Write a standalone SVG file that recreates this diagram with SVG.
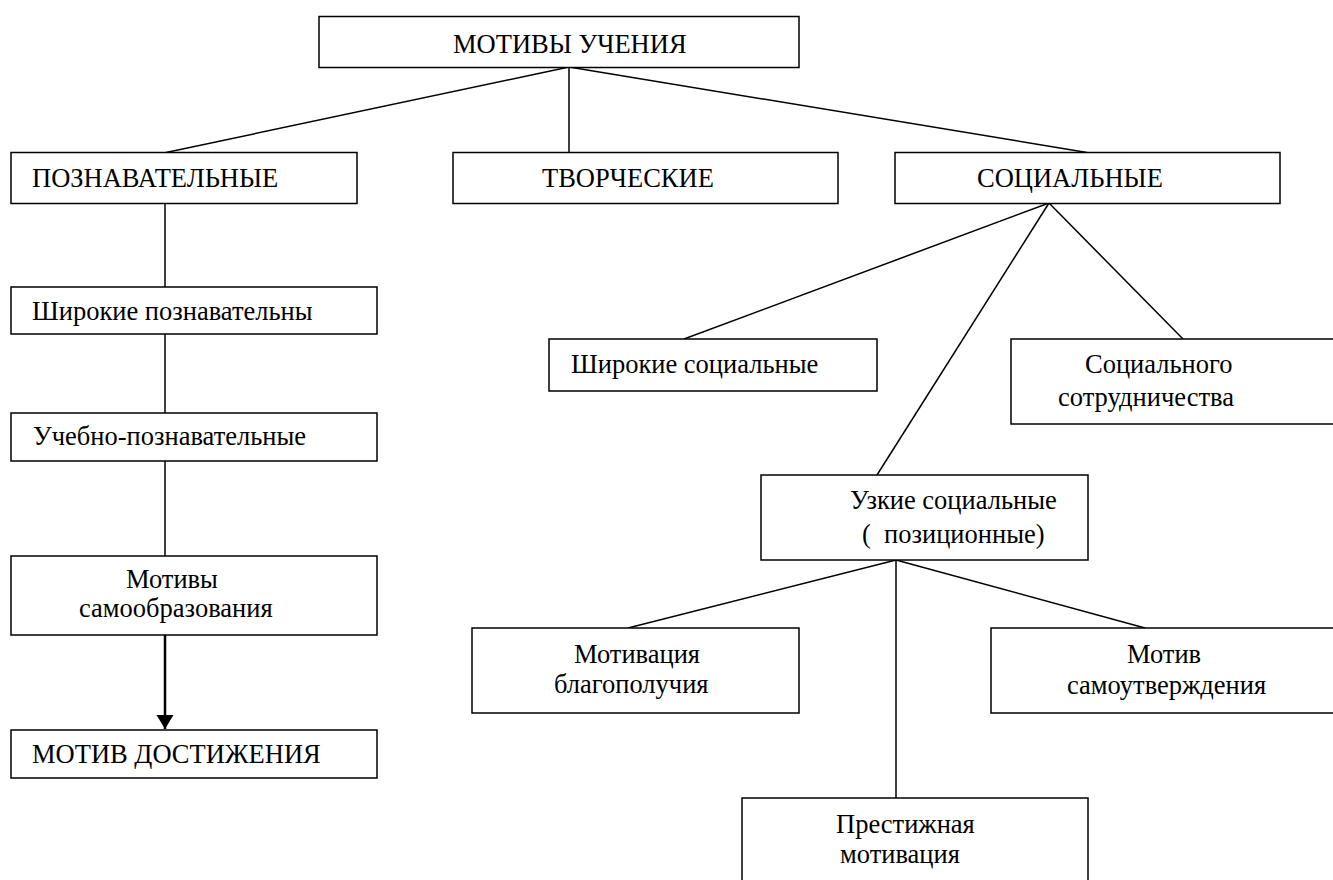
<svg xmlns="http://www.w3.org/2000/svg" width="1333" height="880" viewBox="0 0 1333 880">
<style>
.box{fill:#fff;stroke:#000;stroke-width:1.5}
.t{font-family:"Liberation Serif","Times New Roman",Times,serif;font-size:26.5px;fill:#000;white-space:pre}
.c{stroke:#000;stroke-width:1.5;fill:none}
.a{stroke:#000;stroke-width:2.5;fill:none}
</style>
<defs>
<marker id="arr" markerUnits="userSpaceOnUse" markerWidth="15" markerHeight="18" refX="14" refY="8.5" orient="auto" viewBox="0 0 15 17">
<path d="M0,0 L14,8.5 L0,17 Z" fill="#000"/>
</marker>
</defs>
<rect width="1333" height="880" fill="#fff"/>
<g id="connectors">
<line class="c" x1="569" y1="67" x2="166" y2="152.5"/>
<line class="c" x1="569" y1="67" x2="569" y2="152.5"/>
<line class="c" x1="569" y1="67" x2="1087" y2="152.5"/>
<line class="c" x1="165" y1="203" x2="165" y2="287"/>
<line class="c" x1="165" y1="334" x2="165" y2="413"/>
<line class="c" x1="165" y1="461" x2="165" y2="556"/>
<line class="a" x1="165" y1="635" x2="165" y2="729" marker-end="url(#arr)"/>
<line class="c" x1="1049" y1="203" x2="684" y2="339"/>
<line class="c" x1="1049" y1="203" x2="877" y2="475"/>
<line class="c" x1="1049" y1="203" x2="1183" y2="339"/>
<line class="c" x1="896" y1="560" x2="628" y2="628"/>
<line class="c" x1="896" y1="560" x2="896" y2="798"/>
<line class="c" x1="896" y1="560" x2="1145" y2="628"/>
</g>
<g id="n-motivy">
<rect class="box" x="319" y="16.5" width="480" height="51"/>
<text class="t" x="453" y="53">МОТИВЫ УЧЕНИЯ</text>
</g>
<g id="n-poznav">
<rect class="box" x="11" y="152.5" width="346" height="51"/>
<text class="t" x="32" y="187">ПОЗНАВАТЕЛЬНЫЕ</text>
</g>
<g id="n-tvorch">
<rect class="box" x="453" y="152.5" width="385" height="51"/>
<text class="t" x="542" y="187">ТВОРЧЕСКИЕ</text>
</g>
<g id="n-soc">
<rect class="box" x="895" y="152.5" width="385" height="51"/>
<text class="t" x="977" y="187">СОЦИАЛЬНЫЕ</text>
</g>
<g id="n-shir-pozn">
<rect class="box" x="11" y="287" width="366" height="47"/>
<text class="t" x="32" y="320">Широкие познавательны</text>
</g>
<g id="n-ucheb">
<rect class="box" x="11" y="413" width="366" height="48"/>
<text class="t" x="33" y="445">Учебно-познавательные</text>
</g>
<g id="n-samoobr">
<rect class="box" x="11" y="556" width="366" height="79"/>
<text class="t" x="126" y="588">Мотивы</text>
<text class="t" x="79" y="617">самообразования</text>
</g>
<g id="n-dostizh">
<rect class="box" x="11" y="730" width="366" height="48"/>
<text class="t" x="32" y="763">МОТИВ ДОСТИЖЕНИЯ</text>
</g>
<g id="n-shir-soc">
<rect class="box" x="549" y="339" width="328" height="52"/>
<text class="t" x="571" y="373">Широкие социальные</text>
</g>
<g id="n-sotr">
<rect class="box" x="1011" y="339" width="340" height="85"/>
<text class="t" x="1085" y="373">Социального</text>
<text class="t" x="1058" y="406">сотрудничества</text>
</g>
<g id="n-uzkie">
<rect class="box" x="761" y="475" width="327" height="85"/>
<text class="t" x="850" y="509">Узкие социальные</text>
<text class="t" x="862" y="543">(  позиционные)</text>
</g>
<g id="n-blagop">
<rect class="box" x="472" y="628" width="327" height="85"/>
<text class="t" x="574" y="663">Мотивация</text>
<text class="t" x="554" y="693">благополучия</text>
</g>
<g id="n-samoutv">
<rect class="box" x="991" y="628" width="360" height="85"/>
<text class="t" x="1127" y="663">Мотив</text>
<text class="t" x="1067" y="694">самоутверждения</text>
</g>
<g id="n-prestizh">
<rect class="box" x="742" y="798" width="346" height="110"/>
<text class="t" x="836" y="833">Престижная</text>
<text class="t" x="840" y="863">мотивация</text>
</g>
</svg>
